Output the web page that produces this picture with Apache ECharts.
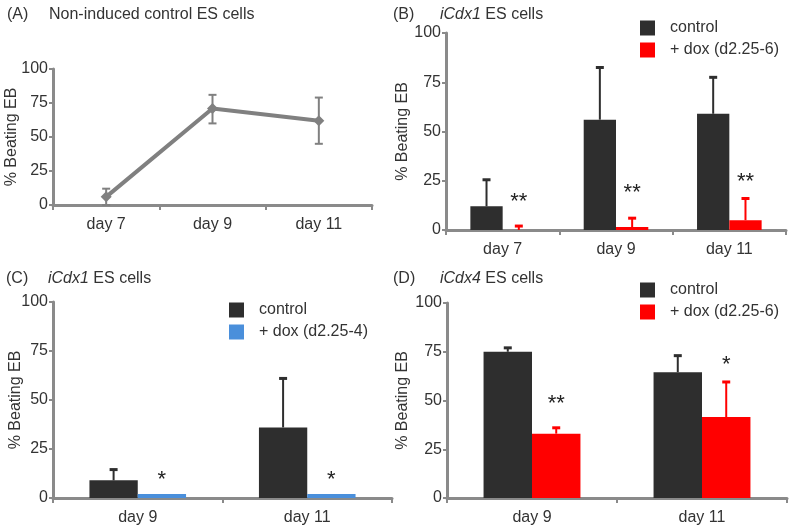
<!DOCTYPE html>
<html>
<head>
<meta charset="utf-8">
<script src="https://cdn.jsdelivr.net/npm/echarts@6/dist/echarts.min.js"></script>
<style>
html,body{margin:0;padding:0;background:#fff;}
#chart{width:800px;height:529px;}
</style>
</head>
<body>
<div id="chart"></div>
<script>
// ---------- Data ----------
const yTicks = [0, 25, 50, 75, 100];

// (A) Non-induced control ES cells
const daysA = ['day 7', 'day 9', 'day 11'];
const meanA = [6, 71, 62];
const lowA = [0, 60, 45];
const highA = [12, 81, 79];

// (B) iCdx1 ES cells, dox d2.25-6
const daysB = ['day 7', 'day 9', 'day 11'];
const controlB = [12, 56, 59];
const controlErrTopB = [25.5, 82.5, 77.5];
const doxB = [0, 1.5, 5];
const doxErrTopB = [2, 6, 16];
const sigB = ['**', '**', '**'];
const sigYB = [17, 21.5, 27];

// (C) iCdx1 ES cells, dox d2.25-4
const daysC = ['day 9', 'day 11'];
const controlC = [9, 36];
const controlErrTopC = [14.5, 61];
const doxC = [0, 0];
const doxErrTopC = [0, 0];
const sigC = ['*', '*'];
const sigYC = [12, 12];

// (D) iCdx4 ES cells, dox d2.25-6
const daysD = ['day 9', 'day 11'];
const controlD = [75, 64.5];
const controlErrTopD = [77, 73];
const doxD = [33, 41.5];
const doxErrTopD = [36, 59.5];
const sigD = ['**', '*'];
const sigYD = [51, 71];

const legendControl = 'control';
const legendDox6 = '+ dox (d2.25-6)';
const legendDox4 = '+ dox (d2.25-4)';

// ---------- Styles ----------
const FONT = 'Liberation Sans, Arial, sans-serif';
const AXIS = '#8a8a8a';
const TXT = '#333333';
const DARK = '#2e2e2e';
const RED = '#ff0000';
const BLUE = '#4a8fdb';
const GRAY_LINE = '#808080';
const BAR_PCT = 0.285;

const chart = echarts.init(document.getElementById('chart'), null, {renderer: 'canvas'});

function xAxisCfg(gridIndex, cats) {
  return {
    type: 'category', gridIndex, data: cats, boundaryGap: true,
    axisLine: {lineStyle: {color: AXIS, width: 3}},
    axisTick: {show: true, alignWithLabel: false, length: 5, lineStyle: {color: AXIS, width: 2}},
    axisLabel: {color: TXT, fontSize: 16, fontFamily: FONT, margin: 12}
  };
}
function yAxisCfg(gridIndex, nameGap) {
  return {
    type: 'value', gridIndex, min: yTicks[0], max: yTicks[yTicks.length - 1], interval: 25,
    name: '% Beating EB', nameLocation: 'middle', nameGap, nameMoveOverlap: false,
    nameTextStyle: {color: TXT, fontSize: 16, fontFamily: FONT},
    axisLine: {show: true, lineStyle: {color: AXIS, width: 3}},
    axisTick: {show: true, length: 4, lineStyle: {color: AXIS, width: 2}},
    splitLine: {show: false},
    axisLabel: {color: TXT, fontSize: 16, fontFamily: FONT, margin: 5}
  };
}

function barWhisker(sign, color) {
  return function (params, api) {
    const i = api.value(0);
    const base = api.coord([i, api.value(1)]);
    const top = api.coord([i, api.value(2)]);
    const band = api.size([1, 0])[0];
    const x = base[0] + sign * band * BAR_PCT / 2;
    if (api.value(2) <= api.value(1)) return null;
    return {
      type: 'group', children: [
        {type: 'line', shape: {x1: x, y1: base[1], x2: x, y2: top[1]}, style: {stroke: color, lineWidth: 2}},
        {type: 'line', shape: {x1: x - 4, y1: top[1], x2: x + 4, y2: top[1]}, style: {stroke: color, lineWidth: 3}}
      ]
    };
  };
}
const sigLookup = {sigB: sigB, sigC: sigC, sigD: sigD};
function stars(params, api) {
  const i = api.value(0);
  const p = api.coord([i, api.value(1)]);
  const band = api.size([1, 0])[0];
  const x = p[0] + band * BAR_PCT / 2;
  return {
    type: 'text', x: x, y: p[1] + 5,
    style: {text: sigLookup[params.seriesName][params.dataIndex], fontSize: 22, fontFamily: FONT,
      fill: '#222', align: 'center', verticalAlign: 'middle'}
  };
}

function lineWhisker(params, api) {
  const i = api.value(0);
  const lo = api.coord([i, api.value(1)]);
  const hi = api.coord([i, api.value(2)]);
  const x = lo[0];
  return {
    type: 'group', children: [
      {type: 'line', shape: {x1: x, y1: lo[1], x2: x, y2: hi[1]}, style: {stroke: GRAY_LINE, lineWidth: 2}},
      {type: 'line', shape: {x1: x - 4, y1: hi[1], x2: x + 4, y2: hi[1]}, style: {stroke: GRAY_LINE, lineWidth: 2}},
      {type: 'line', shape: {x1: x - 4, y1: lo[1], x2: x + 4, y2: lo[1]}, style: {stroke: GRAY_LINE, lineWidth: 2}}
    ]
  };
}

function barSeries(name, idx, data, color, minH) {
  return {
    type: 'bar', name, xAxisIndex: idx, yAxisIndex: idx, data,
    barWidth: (BAR_PCT * 100) + '%', barGap: '0%',
    barMinHeight: minH || 0,
    itemStyle: {color}, silent: true, animation: false
  };
}
function whiskerSeries(name, idx, vals, tops, sign, color) {
  return {
    type: 'custom', name, xAxisIndex: idx, yAxisIndex: idx,
    data: vals.map((v, i) => [i, v, tops[i]]),
    encode: {x: 0, y: [1, 2]},
    renderItem: barWhisker(sign, color), silent: true, animation: false, z: 3
  };
}
function starSeries(name, idx, ys) {
  return {
    type: 'custom', name, xAxisIndex: idx, yAxisIndex: idx,
    data: ys.map((v, i) => [i, v]), encode: {x: 0, y: 1},
    renderItem: stars, silent: true, animation: false, z: 4
  };
}

const titleStyle = {color: TXT, fontSize: 16, fontWeight: 'normal', fontFamily: FONT};
function title(text, left, top) {
  return {text, left, top, padding: 0, textStyle: Object.assign({}, titleStyle, {
    rich: {i: {fontStyle: 'italic', fontSize: 16, color: TXT, fontFamily: FONT}}
  })};
}
function legendCfg(left, top, names) {
  return {
    left, top, orient: 'vertical', padding: 0, itemGap: 6, itemWidth: 15, itemHeight: 15,
    icon: 'rect', selectedMode: false, data: names,
    textStyle: {color: TXT, fontSize: 16, fontFamily: FONT, padding: [0, 0, 0, 10]}
  };
}

const option = {
  backgroundColor: '#ffffff',
  animation: false,
  title: [
    title('(A)', 7, 7), title('Non-induced control ES cells', 49, 7),
    title('(B)', 393, 7), title('{i|iCdx1} ES cells', 440, 7),
    title('(C)', 6, 271), title('{i|iCdx1} ES cells', 48, 271),
    title('(D)', 393, 271), title('{i|iCdx4} ES cells', 440, 271)
  ],
  legend: [
    legendCfg(640, 20, [legendControl, legendDox6]),
    legendCfg(229, 302, [legendControl, legendDox4]),
    legendCfg(640, 282, [legendControl, legendDox6])
  ],
  grid: [
    {left: 53, right: 428, top: 69, bottom: 324},
    {left: 446, right: 14, top: 33, bottom: 299},
    {left: 53, right: 408, top: 302, bottom: 31},
    {left: 447, right: 13, top: 303, bottom: 31}
  ],
  xAxis: [xAxisCfg(0, daysA), xAxisCfg(1, daysB), xAxisCfg(2, daysC), xAxisCfg(3, daysD)],
  yAxis: [yAxisCfg(0, 33), yAxisCfg(1, 35), yAxisCfg(2, 29), yAxisCfg(3, 36)],
  series: [
    // A
    {
      type: 'line', name: 'A', xAxisIndex: 0, yAxisIndex: 0, data: meanA,
      lineStyle: {color: GRAY_LINE, width: 4}, itemStyle: {color: GRAY_LINE},
      symbol: 'diamond', symbolSize: 11, silent: true, animation: false, z: 3
    },
    {
      type: 'custom', name: 'Aerr', xAxisIndex: 0, yAxisIndex: 0,
      data: meanA.map((v, i) => [i, lowA[i], highA[i]]), encode: {x: 0, y: [1, 2]},
      renderItem: lineWhisker, silent: true, animation: false, z: 2
    },
    // B
    barSeries(legendControl, 1, controlB, DARK),
    barSeries(legendDox6, 1, doxB, RED),
    whiskerSeries('wB1', 1, controlB, controlErrTopB, -1, DARK),
    whiskerSeries('wB2', 1, doxB, doxErrTopB, 1, RED),
    starSeries('sigB', 1, sigYB),
    // C
    barSeries(legendControl, 2, controlC, DARK),
    barSeries(legendDox4, 2, doxC, BLUE, 4),
    whiskerSeries('wC1', 2, controlC, controlErrTopC, -1, DARK),
    whiskerSeries('wC2', 2, doxC, doxErrTopC, 1, BLUE),
    starSeries('sigC', 2, sigYC),
    // D
    barSeries(legendControl, 3, controlD, DARK),
    barSeries(legendDox6, 3, doxD, RED),
    whiskerSeries('wD1', 3, controlD, controlErrTopD, -1, DARK),
    whiskerSeries('wD2', 3, doxD, doxErrTopD, 1, RED),
    starSeries('sigD', 3, sigYD)
  ]
};
chart.setOption(option);
</script>
</body>
</html>
